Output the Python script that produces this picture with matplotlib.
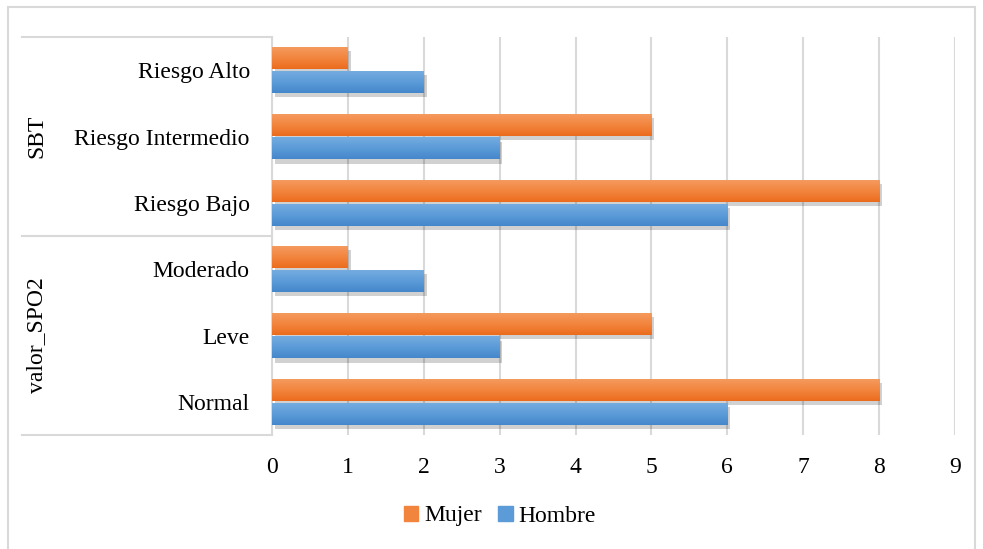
import matplotlib
matplotlib.use("Agg")
import matplotlib.pyplot as plt
import numpy as np
from matplotlib.patches import Rectangle
from matplotlib.lines import Line2D
import matplotlib.patheffects as pe
from matplotlib.colors import LinearSegmentedColormap

plt.rcParams['font.family'] = ['Liberation Serif', 'DejaVu Serif']

categories = ["Riesgo Alto", "Riesgo Intermedio", "Riesgo Bajo", "Moderado", "Leve", "Normal"]
groups = ["SBT", "valor_SPO2"]
group_sizes = [3, 3]
mujer = [1, 5, 8, 1, 5, 8]
hombre = [2, 3, 6, 2, 3, 6]
xticks = list(range(0, 10))
series_names = ["Mujer", "Hombre"]

W, H = 983, 549
fig = plt.figure(figsize=(W/100, H/100), dpi=100)
L, R, T, B = 272, 955, 37, 435
ax = fig.add_axes([L/W, 1-B/H, (R-L)/W, (B-T)/H])

FS = 17
n = len(categories)
ypos = np.arange(n)[::-1]  # top category at highest y
bh = 0.33
gap = 0.015
orange_cmap = LinearSegmentedColormap.from_list("o", ["#EC6C1E", "#F2853E", "#F59A5E"])
blue_cmap = LinearSegmentedColormap.from_list("b", ["#4587CB", "#5B9BD8", "#75ACE0"])

ax.set_xlim(0, 9)
ax.set_ylim(-0.5, n-0.5)

shadow = [pe.SimplePatchShadow(offset=(2, -3), shadow_rgbFace='k', alpha=0.18), pe.Normal()]
grad = np.linspace(0, 1, 64).reshape(-1, 1)
for vals, off, cmap in [(mujer, bh/2 + gap, orange_cmap), (hombre, -bh/2 - gap, blue_cmap)]:
    bars = ax.barh(ypos + off, vals, height=bh, color=cmap(0.5), zorder=3, edgecolor='none')
    for b in bars:
        b.set_path_effects(shadow)
        x0, y0 = b.get_x(), b.get_y()
        w, h = b.get_width(), b.get_height()
        im = ax.imshow(grad, extent=[x0, x0+w, y0, y0+h], origin='lower', cmap=cmap,
                       aspect='auto', zorder=4, interpolation='bilinear')
        im.set_clip_path(b)

ax.set_xticks(xticks)
ax.xaxis.grid(True, color='#D9D9D9', linewidth=1.5, zorder=0)
ax.set_axisbelow(True)
ax.tick_params(axis='x', length=0, labelsize=FS, pad=16, colors='black')
ax.set_yticks(ypos)
ax.set_yticklabels(categories, fontsize=FS)
ax.tick_params(axis='y', length=0, pad=16)
for s in ['top', 'right', 'bottom']:
    ax.spines[s].set_visible(False)
ax.spines['left'].set_color('#D9D9D9')
ax.spines['left'].set_linewidth(1.5)

# group separators and labels
tr = ax.get_yaxis_transform()
x_left = (22 - L) / (R - L)
start = n - 0.5
bounds = [start]
for gs in group_sizes:
    start -= gs
    bounds.append(start)
for yb in bounds:
    ax.add_line(Line2D([x_left, 0], [yb, yb], transform=tr, color='#D9D9D9',
                       linewidth=1.5, clip_on=False))
for i, g in enumerate(groups):
    yc = (bounds[i] + bounds[i+1]) / 2
    ax.text((37 - L) / (R - L), yc, g, transform=tr, rotation=90, ha='center',
            va='center', fontsize=FS)

# legend
handles = [Rectangle((0, 0), 1, 1, color=orange_cmap(0.5)), Rectangle((0, 0), 1, 1, color=blue_cmap(0.5))]
fig.legend(handles, series_names, loc='center', bbox_to_anchor=(500/W, 1-516/H), ncol=2,
           frameon=False, fontsize=FS, handlelength=0.6, handleheight=0.6,
           handletextpad=0.25, columnspacing=0.7)

# outer border
fig.patches.append(Rectangle((8/W, -0.05), (975-8)/W, 1-7/H+0.05, transform=fig.transFigure,
                             fill=False, edgecolor='#D9D9D9', linewidth=1.5))

fig.savefig("out.png", dpi=100)
